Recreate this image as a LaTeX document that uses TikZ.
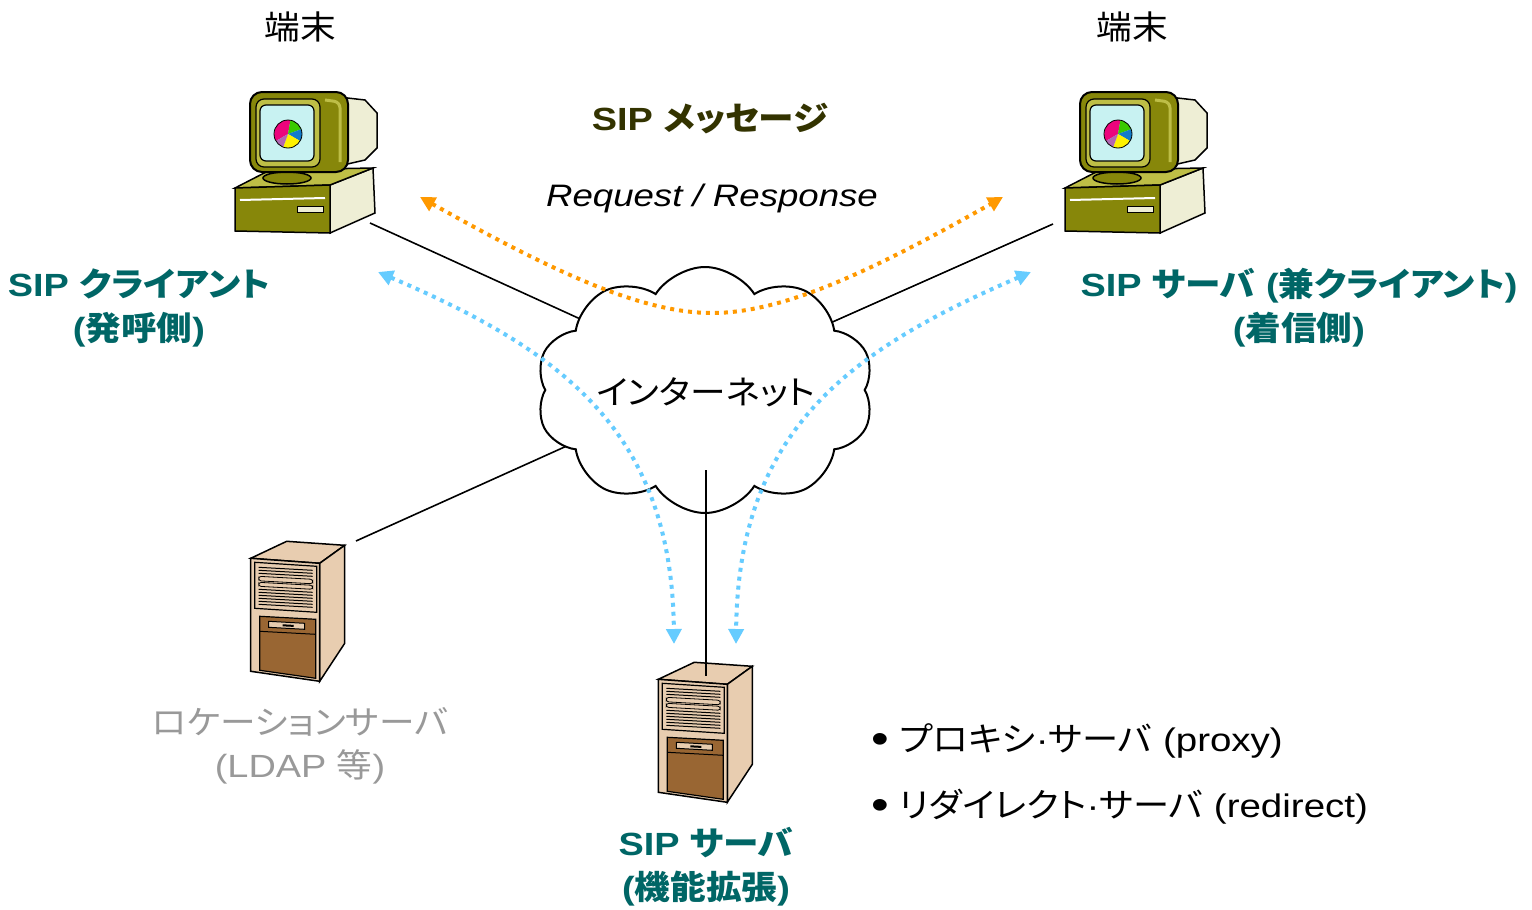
\documentclass[tikz,border=0pt]{standalone}
\usepackage{fontspec}
\setmainfont{Liberation Sans}[FakeStretch=1.18, Scale=1.07]
\newfontfamily\jp{Noto Sans CJK JP}[Scale=1.1, FakeStretch=1.08, RawFeature=+palt]
\newcommand{\jtx}[1]{{\jp #1}}
\newcommand{\bigbul}{\raisebox{-1.5pt}{\fontsize{40}{40}\selectfont •}}
\usetikzlibrary{shapes.symbols,arrows.meta}
\definecolor{tealc}{RGB}{0,102,102}
\definecolor{olivetxt}{RGB}{51,51,0}
\definecolor{orangec}{RGB}{255,153,0}
\definecolor{bluec}{RGB}{102,204,255}
\definecolor{grayc}{RGB}{153,153,153}
\definecolor{olivec}{RGB}{135,135,10}
\definecolor{olivel}{RGB}{190,190,70}
\definecolor{beigec}{RGB}{238,238,213}
\definecolor{screenc}{RGB}{200,242,242}
\definecolor{tanc}{RGB}{232,205,176}
\definecolor{brownc}{RGB}{153,102,51}
\tikzset{
  conn/.style={line width=1.6pt, black},
  odots/.style={line width=4pt, orangec, dash pattern=on 4pt off 5pt, {Triangle[length=15pt,width=15pt]}-{Triangle[length=15pt,width=15pt]}},
  bdots/.style={line width=4pt, bluec, dash pattern=on 4pt off 5pt, {Triangle[length=15pt,width=15pt]}-{Triangle[length=15pt,width=15pt]}},
  plain/.style={font=\fontsize{30}{43}\selectfont, align=center, inner sep=0pt},
  tlabel/.style={font=\bfseries\fontsize{30}{44}\selectfont, text=tealc, align=center, inner sep=0pt},
  computer/.pic={
    % base unit
    \filldraw[fill=beigec, line width=1.5pt] (100,97) -- (143,80) -- (145,125) -- (100,145) -- cycle;
    \filldraw[fill=olivel, line width=1.5pt] (5,100) -- (40,82) -- (143,80) -- (100,97) -- cycle;
    \filldraw[fill=olivec, line width=1.5pt] (5,100) -- (100,97) -- (100,145) -- (5,143) -- cycle;
    \draw[white, line width=2pt] (10,112) -- (95,110);
    \filldraw[fill=beigec, line width=1pt] (67,118) rectangle (93,124);
    % stand
    \filldraw[fill=olivec, line width=1.5pt] (57,90) ellipse [x radius=24, y radius=6];
    % monitor side
    \filldraw[fill=beigec, line width=1.5pt] (100,8) -- (135,12) -- (147,25) -- (147,60) -- (135,72) -- (100,80) -- cycle;
    % monitor front
    \filldraw[fill=olivec, line width=2pt, rounded corners=12pt] (20,4) rectangle (118,84);
    \draw[olivel, line width=3pt, rounded corners=6pt] (95,12) -- (110,14) -- (110,74);
    \filldraw[fill=olivel, line width=1.2pt, rounded corners=8pt] (26,11) rectangle (90,79);
    \filldraw[fill=screenc, line width=1.2pt, rounded corners=6pt] (30,17) rectangle (84,73);
    % pie chart
    \fill[magenta!85!red] (58,46) -- ++(150:14) arc[start angle=150, end angle=280, radius=14] -- cycle;
    \fill[green!70!black!70!lime] (58,46) -- ++(280:14) arc[start angle=280, end angle=340, radius=14] -- cycle;
    \fill[cyan!60!blue] (58,46) -- ++(340:14) arc[start angle=340, end angle=390, radius=14] -- cycle;
    \fill[yellow] (58,46) -- ++(30:14) arc[start angle=30, end angle=110, radius=14] -- cycle;
    \fill[violet!60] (58,46) -- ++(110:14) arc[start angle=110, end angle=150, radius=14] -- cycle;
    \draw[line width=0.8pt] (58,46) circle [radius=14];
  },
  server/.pic={
    \filldraw[fill=tanc, line width=1.5pt] (0,0) -- (36,-17) -- (94,-13) -- (69,5) -- cycle;
    \filldraw[fill=tanc, line width=1.5pt] (69,5) -- (94,-13) -- (94,85) -- (69,123) -- cycle;
    \filldraw[fill=tanc, line width=1.5pt] (0,0) -- (69,5) -- (69,123) -- (0,113) -- cycle;
    \filldraw[fill=tanc, line width=1.2pt] (4,4) -- (66,8) -- (66,54) -- (4,50) -- cycle;
    \foreach \v in {9,12,15,31,34,37,40,43,46} {\draw[line width=1pt] (8,\v) -- (62,\v+3);}
    \draw[line width=0.8pt, rounded corners=2.5pt] (8,18) -- (62,21) -- (62,25.5) -- (8,22.5) -- cycle;
    \draw[line width=0.8pt, rounded corners=2.5pt] (8,24) -- (62,27) -- (62,31) -- (8,28) -- cycle;
    \filldraw[fill=brownc, line width=1.2pt] (9,58) -- (65,61) -- (65,120) -- (9,112) -- cycle;
    \draw[line width=1pt] (9,73) -- (65,76);
    \filldraw[fill=tanc, line width=1pt] (18,63) -- (54,65) -- (54,71) -- (18,69) -- cycle;
    \draw[line width=2pt] (32,67) -- (43,67.6);
  }
}
\begin{document}
\begin{tikzpicture}[x=1pt, y=-1pt]
\useasboundingbox (0,0) rectangle (1532,910);
\fill[white] (0,0) rectangle (1532,910);

% connector end points
\coordinate (pcL) at (370,223);
\coordinate (pcR) at (1053,224);
\coordinate (locS) at (356,541);
\coordinate (sipS) at (706,676);
\coordinate (inL) at (600,328);
\coordinate (inR) at (810,332);
\coordinate (inLoc) at (600,431);
\coordinate (inB) at (706,470);

\draw[conn] (pcL) -- (inL);
\draw[conn] (pcR) -- (inR);
\draw[conn] (locS) -- (inLoc);

% cloud
\node[cloud, draw, fill=white, line width=2pt, cloud puffs=10, cloud puff arc=115, aspect=1.38, minimum width=338pt, minimum height=246pt, inner sep=0pt] (net) at (705,390) {};
\node[plain] (nettxt) at (706,392) {\jtx{インターネット}};

% computers
\pic at (230,88) {computer};
\pic at (1060,88) {computer};
% servers
\pic at (250.7,558.3) {server};
\pic at (658.3,679.3) {server};

\draw[conn] (inB) -- (sipS);

% dotted message arrows
\coordinate (oL) at (420,197);
\coordinate (oM) at (712,313);
\coordinate (oR) at (1003,197);
\draw[odots] (oL) .. controls (550,270) and (640,313) .. (oM) .. controls (784,313) and (874,270) .. (oR);
\coordinate (bL1) at (378,272);
\coordinate (bL2) at (674,644);
\coordinate (bR1) at (1031,272);
\coordinate (bR2) at (736,644);
\draw[bdots] (bL1) .. controls (560,350) and (672,430) .. (bL2);
\draw[bdots] (bR1) .. controls (850,350) and (738,430) .. (bR2);

% texts
\node[plain] (termL) at (300,27) {\jtx{端末}};
\node[plain] (termR) at (1132,27) {\jtx{端末}};
\node[plain, font=\bfseries\fontsize{30}{34}\selectfont, text=olivetxt] (sipmsg) at (710,119) {SIP \jtx{メッセージ}};
\node[plain, font=\itshape\fontsize{29}{34}\selectfont] (reqres) at (712,198) {Request / Response};
\node[tlabel] (client) at (139,308) {SIP \jtx{クライアント}\\(\jtx{発呼側})};
\node[tlabel] (server) at (1299,308) {SIP \jtx{サーバ} (\jtx{兼クライアント})\\(\jtx{着信側})};
\node[plain, text=grayc] (loc) at (300,746) {\jtx{ロケーションサーバ}\\(LDAP \jtx{等})};
\node[tlabel] (sipsrv) at (706,867) {SIP \jtx{サーバ}\\(\jtx{機能拡張})};
\node[plain, font=\fontsize{30.5}{43}\selectfont, anchor=west] (b1) at (871,741) {\bigbul\ \jtx{プロキシ}·\jtx{サーバ} (proxy)};
\node[plain, font=\fontsize{30.5}{43}\selectfont, anchor=west] (b2) at (871,807) {\bigbul\ \jtx{リダイレクト}·\jtx{サーバ} (redirect)};
\end{tikzpicture}
\end{document}
